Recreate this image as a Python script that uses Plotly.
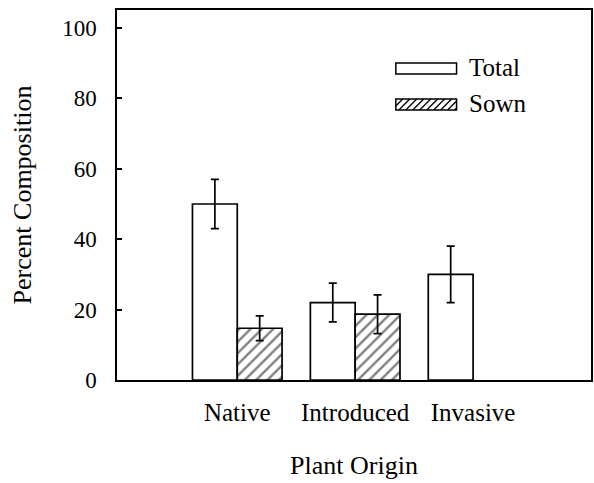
import plotly.graph_objects as go

categories = ["Native", "Introduced", "Invasive"]
total_vals = [50, 22, 30]
total_err = [7, 5.5, 8]
sown_vals = [14.7, 18.7, None]
sown_err = [3.5, 5.5, None]
y_ticks = [0, 20, 40, 60, 80, 100]

W, H = 594, 483
L, R, T, B = 117, 1, 10, 103
FONT = "Liberation Serif"

fig = go.Figure()
fig.add_trace(go.Bar(
    name="Total", x=categories, y=total_vals,
    marker=dict(color="white", line=dict(color="black", width=1.7)),
    error_y=dict(type="data", array=total_err, color="black", thickness=1.7, width=4),
    showlegend=False,
))
fig.add_trace(go.Bar(
    name="Sown", x=categories, y=sown_vals,
    marker=dict(color="white", line=dict(color="black", width=1.7),
                pattern=dict(shape="/", size=8, solidity=0.3, fgcolor="black", bgcolor="white")),
    error_y=dict(type="data", array=sown_err, color="black", thickness=1.7, width=4),
    showlegend=False,
))

# custom legend (pixel positions converted to paper coords)
pw, ph = W - L - R, H - T - B
def px(x):
    return (x - L) / pw
def py(y):
    return (H - B - y) / ph

shapes = []
shapes.append(dict(type="rect", xref="paper", yref="paper",
                   x0=px(397), x1=px(458), y0=py(74), y1=py(63),
                   line=dict(color="black", width=1.5), fillcolor="white"))
# hatched box
bx0, bx1, by0, by1 = 397, 458, 99, 110
step = 7
xs = bx0 - (by1 - by0)
while xs < bx1:
    h = by1 - by0
    x0, y0 = xs, by1
    x1, y1 = xs + h, by0
    if x0 < bx0:
        d = bx0 - x0
        x0, y0 = bx0, by1 - d
    if x1 > bx1:
        d = x1 - bx1
        x1, y1 = bx1, by0 + d
    if x1 > x0:
        shapes.append(dict(type="line", xref="paper", yref="paper",
                           x0=px(x0), y0=py(y0), x1=px(x1), y1=py(y1),
                           line=dict(color="black", width=1.3)))
    xs += step
shapes.append(dict(type="rect", xref="paper", yref="paper",
                   x0=px(bx0), x1=px(bx1), y0=py(by1), y1=py(by0),
                   line=dict(color="black", width=1.5)))

annotations = [
    dict(text="Total", xref="paper", yref="paper", x=px(468), y=py(68),
         xanchor="left", yanchor="middle", showarrow=False,
         font=dict(family=FONT, size=25, color="black")),
    dict(text="Sown", xref="paper", yref="paper", x=px(468), y=py(104),
         xanchor="left", yanchor="middle", showarrow=False,
         font=dict(family=FONT, size=25, color="black")),
]

fig.update_layout(
    width=W, height=H,
    margin=dict(l=L, r=R, t=T, b=B),
    paper_bgcolor="white", plot_bgcolor="white",
    barmode="group", bargap=0.24, bargroupgap=0,
    font=dict(family=FONT, color="black"),
    shapes=shapes, annotations=annotations,
    showlegend=False,
)
fig.update_xaxes(
    range=[-1.02, 3.0], showline=True, mirror=True, linecolor="black", linewidth=1.5,
    ticks="", showgrid=False, zeroline=False,
    tickfont=dict(family=FONT, size=25, color="black"),
    ticklabelstandoff=9,
    title=dict(text="Plant Origin", font=dict(family=FONT, size=26, color="black"), standoff=31),
)
fig.update_yaxes(
    range=[0, 105.1], showline=True, mirror=True, linecolor="black", linewidth=1.5,
    ticks="inside", ticklen=5, tickwidth=1.5, tickcolor="black",
    tickvals=y_ticks, showgrid=False, zeroline=False,
    tickfont=dict(family=FONT, size=23, color="black"),
    ticklabelstandoff=14,
    title=dict(text="Percent Composition", font=dict(family=FONT, size=26, color="black"), standoff=23),
)

fig.write_html("out.html")
